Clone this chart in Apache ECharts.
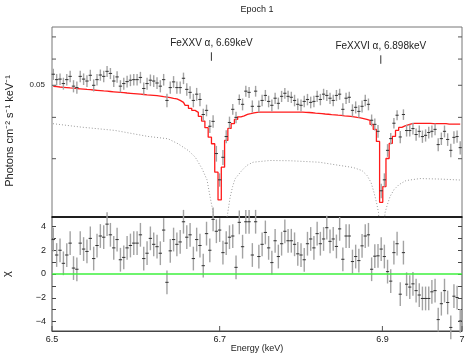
<!DOCTYPE html>
<html>
<head>
<meta charset="utf-8">
<title>Epoch 1</title>
<script src="https://cdn.jsdelivr.net/npm/echarts@6/dist/echarts.min.js"></script>
<style>
  html, body { margin: 0; padding: 0; background: #fff; }
  #chart { width: 476px; height: 354px; }
</style>
</head>
<body>
<div id="chart"></div>
<script>
// spectral bins (keV), uniform grid
const binStart = 6.5015;
const binWidth = 0.00397;

// unfolded data, photons cm^-2 s^-1 keV^-1
const flux = [
  0.0540, 0.0520, 0.0522, 0.0506, 0.0520, 0.0532, 0.0497, 0.0492, 0.0532, 0.0522,
  0.0515, 0.0536, 0.0500, 0.0520, 0.0537, 0.0532, 0.0551, 0.0543, 0.0515, 0.0530,
  0.0497, 0.0506, 0.0513, 0.0518, 0.0520, 0.0520, 0.0528, 0.0489, 0.0506, 0.0518,
  0.0515, 0.0508, 0.0497, 0.0520, 0.0450, 0.0492, 0.0512, 0.0492, 0.0492, 0.0525,
  0.0486, 0.0476, 0.0450, 0.0470, 0.0453, 0.0408, 0.0420, 0.0376, 0.0389, 0.0311,
  0.0259, 0.0303, 0.0350, 0.0386, 0.0423, 0.0400, 0.0453, 0.0438, 0.0480, 0.0476,
  0.0432, 0.0480, 0.0432, 0.0450, 0.0466, 0.0447, 0.0435, 0.0457, 0.0441, 0.0463,
  0.0473, 0.0463, 0.0460, 0.0450, 0.0438, 0.0435, 0.0447, 0.0453, 0.0444, 0.0447,
  0.0463, 0.0453, 0.0470, 0.0466, 0.0457, 0.0450, 0.0466, 0.0470, 0.0423, 0.0457,
  0.0460, 0.0420, 0.0429, 0.0417, 0.0432, 0.0450, 0.0438, 0.0392, 0.0381, 0.0363,
  0.0240, 0.0259, 0.0318, 0.0345, 0.0384, 0.0406, 0.0349, 0.0408, 0.0365, 0.0365,
  0.0370, 0.0355, 0.0363, 0.0350, 0.0353, 0.0360, 0.0363, 0.0368, 0.0331, 0.0345,
  0.0363, 0.0343, 0.0318, 0.0348, 0.0350, 0.0324
];

const fluxErr = [
  0.0021, 0.0021, 0.0021, 0.0021, 0.0021, 0.0021, 0.0021, 0.0021, 0.0021, 0.0021,
  0.0021, 0.0021, 0.0021, 0.0021, 0.0021, 0.0021, 0.0021, 0.0021, 0.0021, 0.0021,
  0.0021, 0.0021, 0.0021, 0.0021, 0.0021, 0.0021, 0.0021, 0.0021, 0.0021, 0.0021,
  0.0021, 0.0021, 0.0021, 0.0021, 0.0021, 0.0021, 0.0021, 0.0021, 0.0021, 0.0021,
  0.0021, 0.0021, 0.0021, 0.0021, 0.0021, 0.0017, 0.0017, 0.0017, 0.0017, 0.0017,
  0.0012, 0.0016, 0.0016, 0.0016, 0.0016, 0.0016, 0.0016, 0.0018, 0.0018, 0.0018,
  0.0018, 0.0018, 0.0018, 0.0018, 0.0018, 0.0018, 0.0018, 0.0018, 0.0018, 0.0018,
  0.0018, 0.0018, 0.0018, 0.0018, 0.0018, 0.0018, 0.0018, 0.0018, 0.0018, 0.0018,
  0.0018, 0.0018, 0.0018, 0.0018, 0.0018, 0.0018, 0.0018, 0.0018, 0.0018, 0.0018,
  0.0018, 0.0018, 0.0018, 0.0018, 0.0018, 0.0018, 0.0018, 0.0016, 0.0016, 0.0016,
  0.0012, 0.0012, 0.0014, 0.0014, 0.0014, 0.0014, 0.0015, 0.0015, 0.0015, 0.0015,
  0.0015, 0.0015, 0.0015, 0.0015, 0.0015, 0.0015, 0.0015, 0.0015, 0.0015, 0.0015,
  0.0015, 0.0015, 0.0015, 0.0015, 0.0015, 0.0015
];

// folded model, one value per bin
const model = [
  0.04962, 0.04952, 0.04941, 0.04931, 0.04921, 0.04910, 0.04900, 0.04890, 0.04880, 0.04870,
  0.04859, 0.04849, 0.04839, 0.04829, 0.04819, 0.04808, 0.04798, 0.04788, 0.04778, 0.04768,
  0.04758, 0.04748, 0.04738, 0.04729, 0.04719, 0.04709, 0.04699, 0.04689, 0.04679, 0.04670,
  0.04660, 0.04650, 0.04640, 0.04621, 0.04608, 0.04589, 0.04567, 0.04551, 0.04503, 0.04441,
  0.04349, 0.04259, 0.04200, 0.04142, 0.04028, 0.03898, 0.03722, 0.03486, 0.03329, 0.02731,
  0.02252, 0.02828, 0.03407, 0.03704, 0.03828, 0.03944, 0.04014, 0.04042, 0.04084, 0.04104,
  0.04127, 0.04142, 0.04150, 0.04150, 0.04150, 0.04150, 0.04150, 0.04150, 0.04150, 0.04150,
  0.04150, 0.04150, 0.04150, 0.04150, 0.04150, 0.04150, 0.04144, 0.04138, 0.04130, 0.04121,
  0.04113, 0.04104, 0.04095, 0.04087, 0.04078, 0.04070, 0.04061, 0.04053, 0.04044, 0.04036,
  0.04025, 0.04014, 0.03999, 0.03985, 0.03966, 0.03944, 0.03917, 0.03809, 0.03679, 0.03383,
  0.02215, 0.02472, 0.03004, 0.03336, 0.03503, 0.03652, 0.03730, 0.03769, 0.03796, 0.03822,
  0.03835, 0.03835, 0.03835, 0.03835, 0.03835, 0.03835, 0.03829, 0.03829, 0.03829, 0.03829,
  0.03829, 0.03815, 0.03815, 0.03815, 0.03815, 0.03815
];

// residuals, (data - model) / error
const chi = [
  2.9, 1.6, 2.0, 0.9, 1.6, 2.6, 0.5, 0.4, 2.6, 2.1,
  1.9, 3.0, 1.3, 2.4, 3.2, 3.1, 4.2, 3.3, 2.2, 2.9,
  1.2, 1.4, 2.2, 2.4, 2.6, 2.6, 3.3, 1.3, 1.75, 3.0,
  2.5, 2.3, 1.75, 3.7, -0.7, 1.95, 2.9, 2.5, 2.7, 4.4,
  3.1, 3.3, 1.3, 2.9, 2.4, 0.7, 3.4, 2.0, 4.6, 3.6,
  3.7, 1.8, 2.6, 3.1, 3.2, 0.56, 4.35, 2.3, 4.4, 4.4,
  1.6, 4.4, 1.47, 2.5, 3.5, 2.2, 0.96, 2.8, 1.47, 2.55,
  3.6, 2.8, 2.8, 2.5, 1.7, 1.6, 1.2, 2.55, 2.95, 2.2,
  3.4, 2.55, 2.95, 3.9, 2.75, 2.95, 2.32, 3.8, 1.24, 3.2,
  3.2, 1.05, 1.47, 1.13, 2.37, 3.2, 3.3, 0.4, 1.5, 1.53,
  2.1, 1.47, 0.2, -0.6, 1.8, 2.55, -1.7, 1.8, -0.86, -1.1,
  -0.83, -1.4, -1.77, -2.06, -2.06, -2.06, -1.5, -1.4, -3.84, -2.5,
  -1.4, -2.4, -4.5, -1.87, -1.98, -3.95
];

// dotted model component
const contEnergy = [
  6.5012, 6.5342, 6.5743, 6.6138, 6.6377, 6.6498, 6.6621, 6.6705, 6.6786, 6.6847,
  6.6886, 6.6917, 6.6947, 6.7000, 6.7053, 6.7093, 6.7126, 6.7157, 6.7187, 6.7268,
  6.7329, 6.7405, 6.7611, 6.7857, 6.8214, 6.8474, 6.8636, 6.8747, 6.8809, 6.8859,
  6.8896, 6.8927, 6.8952, 6.8970, 6.8989, 6.9008, 6.9033, 6.9058, 6.9095, 6.9145,
  6.9208, 6.9295, 6.9470, 6.9722, 6.9987
];
const contFlux = [
  0.03828, 0.03738, 0.03653, 0.03503, 0.03447, 0.03329, 0.03177, 0.03032, 0.02802, 0.02590,
  0.02289, 0.02089, 0.01850, 0.00800, 0.01850, 0.02018, 0.02289, 0.02472, 0.02608, 0.02762,
  0.02862, 0.02928, 0.02963, 0.02958, 0.02928, 0.02862, 0.02822, 0.02762, 0.02669, 0.02541,
  0.02370, 0.02210, 0.02062, 0.01700, 0.00800, 0.01700, 0.02060, 0.02164, 0.02305, 0.02420,
  0.02506, 0.02577, 0.02613, 0.02604, 0.02586
];

// line identifications
const lineEnergy = [6.69, 6.898];
const lineTickTop = [0.0629, 0.0616];
const lineLabel = ['FeXXV α, 6.69keV', 'FeXXVI α, 6.898keV'];

// axis ticks and labels
const fluxTicks = [0.03, 0.04, 0.05, 0.06, 0.07];
const fluxLabelValues = [0.05];
const fluxLabelText = ['0.05'];
const energyTicks = [6.5, 6.7, 6.9, 7];
const energyTickText = ['6.5', '6.7', '6.9', '7'];
const chiTicks = [-4, -3, -2, -1, 0, 1, 2, 3, 4];
const chiLabels = [-4, -2, 0, 2, 4];

const xMin = 6.5, xMax = 7;
const fluxMin = 0.02, fluxMax = 0.075;
const chiMin = -4.8, chiMax = 4.8;
const FONT = '"Liberation Sans", Arial, Helvetica, sans-serif';

const energy = flux.map((_, i) => +(binStart + i * binWidth).toFixed(5));

function textEl(x, y, text, size, align, valign) {
  return {
    type: 'text', x: x, y: y,
    style: {
      text: text, font: size + 'px ' + FONT, fill: '#222',
      align: align, verticalAlign: valign,
      textAlign: align, textVerticalAlign: valign
    }
  };
}

function tickLine(x1, y1, x2, y2) {
  return { type: 'line', shape: { x1: x1, y1: y1, x2: x2, y2: y2 }, style: { stroke: '#555', lineWidth: 1 } };
}

// data point with error bars: grey vertical bar, dark bin-width bar
function crossItem(params, api) {
  const x = api.value(0), y = api.value(1), e = api.value(2);
  const half = binWidth / 2;
  const top = api.coord([x, y + e]), bot = api.coord([x, y - e]);
  const left = api.coord([x - half, y]), right = api.coord([x + half, y]);
  return {
    type: 'group',
    children: [
      { type: 'line', shape: { x1: top[0], y1: top[1], x2: bot[0], y2: bot[1] },
        style: { stroke: '#a3a3a3', lineWidth: 1.4 } },
      { type: 'line', shape: { x1: left[0], y1: left[1], x2: right[0], y2: right[1] },
        style: { stroke: '#333', lineWidth: 1 } }
    ]
  };
}

function fluxFrame(params, api) {
  const v = api.value(1);
  const l = api.coord([xMin, v]), r = api.coord([xMax, v]);
  const kids = [tickLine(l[0], l[1], l[0] + 4, l[1]), tickLine(r[0], r[1], r[0] - 4, r[1])];
  const k = fluxLabelValues.indexOf(v);
  if (k >= 0) kids.push(textEl(l[0] - 7, l[1], fluxLabelText[k], 8, 'right', 'middle'));
  return { type: 'group', children: kids };
}

function energyFrame(params, api) {
  const e = api.value(0);
  const p = api.coord([e, chiMin]);
  return {
    type: 'group',
    children: [
      tickLine(p[0], p[1], p[0], p[1] - 5),
      textEl(p[0], p[1] + 4, energyTickText[params.dataIndex], 9, 'center', 'top')
    ]
  };
}

function lineMark(params, api) {
  const p = api.coord([api.value(0), api.value(1)]);
  return {
    type: 'group',
    children: [
      { type: 'line', shape: { x1: p[0], y1: p[1], x2: p[0], y2: p[1] + 8.5 },
        style: { stroke: '#333', lineWidth: 1 } },
      textEl(p[0], p[1] - 9, lineLabel[params.dataIndex], 10, 'center', 'middle')
    ]
  };
}

const chart = echarts.init(document.getElementById('chart'));

const option = {
  animation: false,
  graphic: [
    { type: 'text', x: 257, y: 10,
      style: { text: 'Epoch 1', font: '9px ' + FONT, fill: '#222',
        align: 'center', verticalAlign: 'middle', textAlign: 'center', textVerticalAlign: 'middle' } },
    { type: 'text', x: 10, y: 131, rotation: Math.PI / 2,
      style: { text: 'Photons cm⁻² s⁻¹ keV⁻¹', font: '11px ' + FONT, fill: '#222',
        align: 'center', verticalAlign: 'middle', textAlign: 'center', textVerticalAlign: 'middle' } }
  ],
  grid: [
    { left: 52, top: 27, width: 410, height: 190, show: true, borderColor: '#777', borderWidth: 1,
      containLabel: false, outerBoundsMode: 'none' },
    { left: 52, top: 217, width: 410, height: 114, show: true, borderColor: '#444', borderWidth: 1,
      containLabel: false, outerBoundsMode: 'none' }
  ],
  xAxis: [
    { type: 'log', gridIndex: 0, min: xMin, max: xMax,
      axisLine: { show: true, onZero: false, lineStyle: { color: '#000', width: 1.5 } },
      axisTick: { show: false }, axisLabel: { show: false }, splitLine: { show: false } },
    { type: 'log', gridIndex: 1, min: xMin, max: xMax,
      axisLine: { show: true, onZero: false, lineStyle: { color: '#444', width: 1 } },
      axisTick: { show: false }, axisLabel: { show: false }, splitLine: { show: false },
      name: 'Energy (keV)', nameLocation: 'middle', nameGap: 13,
      nameTextStyle: { fontSize: 9, color: '#222', fontFamily: FONT } }
  ],
  yAxis: [
    { type: 'log', gridIndex: 0, min: fluxMin, max: fluxMax,
      axisLine: { show: false }, axisTick: { show: false }, axisLabel: { show: false },
      splitLine: { show: false } },
    { type: 'value', gridIndex: 1, min: chiMin, max: chiMax,
      axisLine: { show: false },
      axisTick: { show: true, inside: true, length: 4, customValues: chiTicks,
        lineStyle: { color: '#444' } },
      axisLabel: { show: true, customValues: chiLabels, margin: 6, fontSize: 9, color: '#222',
        fontFamily: FONT, formatter: v => String(v).replace('-', '\u2212') },
      splitLine: { show: false },
      name: 'χ', nameLocation: 'middle', nameGap: 40,
      nameTextStyle: { fontSize: 11, color: '#222', fontFamily: FONT } },
    { type: 'value', gridIndex: 1, position: 'right', min: chiMin, max: chiMax,
      axisLine: { show: false },
      axisTick: { show: true, inside: true, length: 4, customValues: chiTicks,
        lineStyle: { color: '#444' } },
      axisLabel: { show: false }, splitLine: { show: false } }
  ],
  series: [
    { type: 'line', name: 'component', xAxisIndex: 0, yAxisIndex: 0,
      data: contEnergy.map((e, i) => [e, contFlux[i]]),
      symbol: 'none', clip: true, z: 2,
      lineStyle: { color: '#9a9a9a', width: 1, type: [1, 2] } },
    { type: 'line', name: 'model', xAxisIndex: 0, yAxisIndex: 0,
      data: energy.map((e, i) => [e, model[i]]),
      step: 'middle', symbol: 'none', clip: true, z: 3,
      lineStyle: { color: '#ff1a1a', width: 1.3 } },
    { type: 'custom', name: 'data', xAxisIndex: 0, yAxisIndex: 0,
      data: energy.map((e, i) => [e, flux[i], fluxErr[i]]),
      renderItem: crossItem, z: 4, silent: true },
    { type: 'custom', name: 'fluxFrame', xAxisIndex: 0, yAxisIndex: 0,
      data: fluxTicks.map(v => [xMin, v]), renderItem: fluxFrame, z: 5, silent: true },
    { type: 'custom', name: 'lines', xAxisIndex: 0, yAxisIndex: 0,
      data: lineEnergy.map((e, i) => [e, lineTickTop[i]]), renderItem: lineMark, z: 5, silent: true },
    { type: 'custom', name: 'residuals', xAxisIndex: 1, yAxisIndex: 1,
      data: energy.map((e, i) => [e, chi[i], 1]),
      renderItem: crossItem, z: 4, silent: true },
    { type: 'line', name: 'zero', xAxisIndex: 1, yAxisIndex: 1,
      data: [[xMin, 0], [xMax, 0]], symbol: 'none', z: 5,
      lineStyle: { color: '#3ef03e', width: 1.5 } },
    { type: 'custom', name: 'energyFrame', xAxisIndex: 1, yAxisIndex: 1,
      data: energyTicks.map(e => [e, chiMin]), renderItem: energyFrame, z: 5, silent: true }
  ]
};

chart.setOption(option);
</script>
</body>
</html>
